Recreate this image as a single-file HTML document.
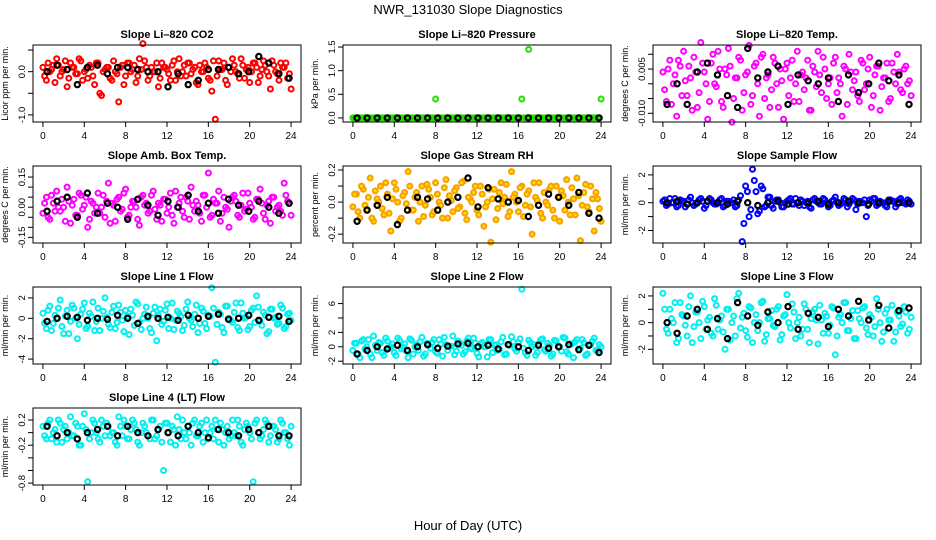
<!DOCTYPE html>
<html><head><meta charset="utf-8">
<style>
html,body{margin:0;padding:0;background:#fff;}
svg{display:block;font-family:"Liberation Sans",sans-serif;}
</style></head>
<body>
<svg id="chart" width="936" height="540" viewBox="0 0 936 540" xmlns="http://www.w3.org/2000/svg">
<rect width="936" height="540" fill="#fff"/>
<text x="468" y="14" text-anchor="middle" font-size="13">NWR_131030  Slope Diagnostics</text>
<text x="468" y="530" text-anchor="middle" font-size="13">Hour of Day (UTC)</text>
</svg>
<script>
const NS="http://www.w3.org/2000/svg";
const svg=document.getElementById('chart');
const xTicks=[0,4,8,12,16,20,24];

const co2Color=[0.1,-0.2,0.0,0.15,0.3,-0.1,0.05,-0.35,0.2,0.1,-0.05,0.25,0.0,-0.15,0.1,-0.3,0.2,-0.55,0.05,0.1,-0.2,0.0,-0.7,0.15,-0.1,0.2,0.05,-0.25,0.3,0.65,0.1,-0.1,0.0,0.2,-0.15,0.1,0.05,-0.2,0.25,0.0,-0.1,0.15,0.2,-0.05,0.1,-0.3,0.0,0.2,-0.15,-0.45,-1.1,0.25,0.05,-0.2,0.1,0.3,0.0,-0.15,0.15,0.05,-0.25,0.2,0.1,-0.1,0.25,0.0,-0.4,0.15,-0.05,0.2,0.1,-0.15,-0.4];
const co2Color2=[-0.1,0.2,0.05,-0.25,0.15,0.0,0.25,-0.15,0.1,-0.05,0.3,-0.2,0.05,0.15,-0.1,0.2,-0.5,0.0,0.1,-0.15,0.25,-0.05,0.1,-0.3,0.2,0.0,0.15,-0.1,0.05,0.25,-0.2,0.1,0.0,-0.35,0.2,0.1,-0.05,0.15,-0.2,0.3,0.0,-0.1,0.2,0.05,-0.25,0.15,0.0,0.1,-0.2,0.25,-0.1,0.05,0.2,-0.3,0.0,0.15,-0.05,0.3,-0.15,0.1,0.0,0.2,-0.25,0.05,0.15,-0.1,0.25,0.0,-0.2,0.1,0.2,-0.05];
const co2Black=[0.0,0.15,0.05,-0.3,0.1,0.15,-0.05,0.1,0.1,0.05,0.0,0.0,-0.35,-0.05,-0.3,-0.2,0.05,0.05,0.1,-0.05,0.0,0.35,0.2,-0.05,-0.15];

const presColor=[0,0,0,0,0,0,0,0,0,0,0,0,0,0,0,0,0,0,0,0,0,0,0,0,0.4,0,0,0,0,0,0,0,0,0,0,0,0,0,0,0,0,0,0,0,0,0,0,0,0,0.4,0,1.45,0,0,0,0,0,0,0,0,0,0,0,0,0,0,0,0,0,0,0,0,0.4];
const presColor2=[0,0,0,0,0,0,0,0,0,0,0,0,0,0,0,0,0,0,0,0,0,0,0,0,0,0,0,0,0,0,0,0,0,0,0,0,0,0,0,0,0,0,0,0,0,0,0,0,0,0,0,0,0,0,0,0,0,0,0,0,0,0,0,0,0,0,0,0,0,0,0,0];
const presBlack=[0,0,0,0,0,0,0,0,0,0,0,0,0,0,0,0,0,0,0,0,0,0,0,0,0];

const tempColor=[0.004,-0.006,0.008,0.0,-0.011,0.006,0.011,-0.004,0.002,0.009,-0.008,0.014,0.004,-0.012,0.007,0.0,0.011,-0.006,0.005,0.012,-0.013,0.002,0.009,-0.009,0.003,0.013,-0.004,0.007,-0.011,0.01,0.002,-0.008,0.009,0.0,0.005,-0.012,0.007,0.002,-0.006,0.011,0.003,-0.002,0.008,-0.009,0.004,0.011,-0.003,0.005,0.0,-0.007,0.009,0.002,-0.011,0.005,0.01,-0.002,0.004,-0.006,0.007,0.0,0.009,-0.004,0.006,-0.009,0.002,0.007,-0.005,0.004,0.01,-0.002,0.005,0.0,-0.004];
const tempColor2=[-0.002,0.005,-0.007,0.003,0.008,-0.004,0.001,0.006,-0.009,0.004,-0.003,0.007,0.0,-0.006,0.01,-0.001,0.005,-0.008,0.003,0.006,-0.005,0.002,0.008,-0.003,0.004,-0.007,0.006,0.0,0.009,-0.005,0.003,-0.002,0.007,-0.008,0.001,0.005,-0.004,0.008,0.0,-0.006,0.004,0.002,-0.009,0.006,-0.001,0.003,0.009,-0.005,0.002,0.007,-0.003,0.0,0.006,-0.007,0.004,0.001,-0.004,0.008,-0.002,0.005,-0.008,0.003,0.006,-0.001,0.002,-0.006,0.007,0.0,0.004,-0.003,0.006,0.001];
const tempBlack=[-0.007,0.0,-0.007,0.004,0.007,0.003,-0.004,-0.008,0.012,0.002,0.004,0.006,-0.007,0.003,0.001,0.0,0.002,-0.006,0.003,-0.003,0.0,0.007,0.001,0.003,-0.007];

const ambColor=[-0.03,0.05,-0.06,0.02,0.08,-0.02,0.0,0.1,-0.08,0.04,-0.04,0.06,0.01,-0.1,0.03,-0.03,0.07,0.0,-0.05,0.12,0.02,-0.07,0.05,-0.01,0.09,-0.04,0.03,0.0,-0.09,0.06,0.02,-0.02,0.08,-0.06,0.01,0.04,-0.03,0.07,-0.08,0.0,0.05,-0.05,0.03,0.1,-0.02,0.01,-0.07,0.06,0.17,-0.04,0.02,0.08,-0.03,0.0,-0.1,0.05,0.03,-0.05,0.07,-0.01,0.02,-0.06,0.04,0.09,-0.03,0.01,-0.08,0.05,0.0,-0.02,0.12,0.03,-0.04];
const ambColor2=[0.02,-0.05,0.06,-0.02,0.0,0.04,-0.07,0.03,0.01,-0.04,0.07,-0.01,0.05,-0.06,0.02,0.0,-0.03,0.06,0.03,-0.08,0.01,0.04,-0.02,0.07,-0.05,0.0,0.03,-0.06,0.05,0.01,-0.03,0.06,-0.01,0.02,-0.07,0.04,0.0,-0.04,0.08,0.02,-0.02,0.05,-0.06,0.01,0.03,-0.03,0.06,0.0,-0.05,0.04,0.02,-0.07,0.05,-0.01,0.03,0.06,-0.04,0.01,-0.02,0.07,0.0,-0.05,0.04,0.02,-0.06,0.03,0.05,-0.02,0.01,-0.04,0.06,0.02];
const ambBlack=[-0.02,0.03,0.05,-0.05,0.07,-0.03,0.02,0.0,-0.06,0.04,0.01,-0.04,0.03,0.0,0.06,-0.02,0.02,-0.03,0.04,0.01,-0.02,0.03,0.0,-0.03,0.02];

const rhColor=[-0.03,0.05,-0.1,0.08,-0.05,0.15,-0.12,0.02,0.1,-0.08,0.05,-0.18,0.12,0.0,-0.1,0.06,0.19,-0.05,0.03,-0.12,0.1,-0.02,0.08,-0.08,0.12,0.0,-0.1,0.14,0.04,-0.06,0.09,-0.03,0.13,-0.11,0.02,0.06,-0.05,0.1,-0.15,0.0,-0.25,0.08,-0.04,0.12,0.03,-0.09,0.19,0.05,-0.06,0.1,-0.02,0.07,-0.2,0.03,0.12,-0.1,0.0,0.08,-0.05,0.1,-0.12,0.04,0.14,-0.08,0.02,0.15,-0.24,0.06,-0.03,0.1,-0.18,0.02,-0.12];
const rhColor2=[0.05,-0.06,0.1,-0.02,0.03,-0.1,0.07,0.0,-0.04,0.12,-0.07,0.02,0.08,-0.12,0.04,-0.01,0.1,-0.05,0.06,0.0,-0.09,0.11,0.03,-0.06,0.05,-0.02,0.09,-0.1,0.01,0.07,-0.04,0.12,-0.07,0.03,0.0,0.1,-0.08,0.05,-0.03,0.08,0.02,-0.11,0.06,-0.01,0.11,-0.06,0.03,0.0,0.09,-0.09,0.05,-0.03,0.12,0.01,-0.07,0.06,-0.02,0.1,-0.1,0.03,0.07,-0.05,0.0,0.09,-0.08,0.04,-0.02,0.11,-0.06,0.02,0.06,-0.04];
const rhBlack=[-0.12,-0.05,-0.02,0.03,-0.14,-0.05,0.03,0.02,-0.05,0.0,0.03,0.15,-0.03,0.09,0.02,0.0,0.01,-0.09,-0.02,0.05,0.03,-0.02,0.06,-0.07,-0.1];

const sflColor=[0.1,-0.2,0.3,0.0,-0.3,0.2,0.1,-0.1,0.4,-0.2,0.0,0.3,-0.4,0.1,0.2,-0.1,0.0,0.3,-0.2,0.1,0.0,-0.3,0.2,-2.8,1.2,-1.0,2.4,0.8,-0.6,1.0,-0.2,0.4,-0.4,0.2,0.0,-0.3,0.1,0.3,-0.1,0.0,0.2,-0.2,0.1,-0.4,0.3,0.0,-0.1,0.2,-0.3,0.1,0.4,-0.2,0.0,0.2,-0.1,0.3,-0.5,0.1,0.0,-1.0,0.2,0.3,-0.2,0.1,0.0,-0.3,0.2,0.1,-0.1,0.3,0.0,0.2,-0.1];
const sflColor2=[0.2,-0.1,0.0,0.3,-0.2,0.1,-0.3,0.2,0.0,-0.1,0.2,0.1,-0.2,0.3,0.0,-0.1,0.2,-0.3,0.1,0.0,0.2,-0.2,0.5,-1.5,0.8,-0.5,1.6,-0.8,1.2,-0.3,0.4,-0.2,0.1,0.2,-0.3,0.0,0.2,-0.1,0.3,-0.2,0.1,0.0,-0.3,0.2,0.1,-0.1,0.3,0.0,-0.2,0.2,0.0,-0.1,0.3,-0.3,0.1,0.2,-0.1,0.0,0.2,-0.2,0.1,0.3,-0.1,0.0,-0.2,0.2,0.1,-0.3,0.2,0.0,-0.1,0.1];
const sflBlack=[0.0,0.1,-0.1,0.0,0.1,0.0,-0.1,0.1,0.0,-0.2,0.0,0.1,-0.1,0.0,0.0,0.1,-0.1,0.0,0.1,0.0,-0.1,0.0,0.1,0.0,0.0];

const l1Color=[0.5,-1.0,1.2,-0.5,0.0,1.8,-1.5,0.8,-0.3,1.0,-2.0,0.4,1.5,-0.8,0.2,-1.2,1.0,0.0,2.0,-0.6,0.6,-1.0,1.3,-0.2,0.8,-1.6,0.3,1.6,-0.4,0.0,1.1,-1.0,0.5,-2.2,0.9,-0.3,1.4,0.0,-1.1,0.7,0.2,-0.7,1.6,-0.2,0.4,-1.4,1.0,-0.5,0.3,3.0,-4.3,0.6,-0.9,1.2,0.0,-0.4,1.5,-1.2,0.5,0.1,-0.8,1.0,2.2,-0.3,0.6,-1.5,0.9,0.0,-0.6,1.3,-1.0,0.4,-0.2];
const l1Color2=[-0.5,0.8,-1.2,0.3,1.0,-0.8,0.2,-1.5,1.3,0.0,-0.6,0.9,-1.0,0.5,1.6,-0.3,-1.2,0.7,0.1,-0.9,1.2,-0.4,0.6,-1.3,0.2,0.9,-0.7,1.4,-1.1,0.4,0.0,-1.4,1.1,0.3,-0.6,0.8,-1.0,1.5,-0.2,0.5,-1.2,0.9,0.0,-0.8,1.3,-0.5,0.7,-1.0,0.2,1.0,-0.6,0.4,-1.4,1.2,-0.2,0.6,-0.9,1.5,0.0,-1.1,0.8,-0.4,1.1,-0.7,0.3,-1.3,0.9,0.1,-0.5,1.0,-0.8,0.5];
const l1Black=[-0.3,0.0,0.2,0.1,-0.2,0.0,-0.1,0.3,0.0,-0.5,0.2,0.0,0.1,-0.2,0.3,0.0,0.2,0.4,-0.1,0.0,0.3,-0.2,0.1,0.2,-0.3];

const l2Color=[-0.5,0.5,-1.5,1.0,0.0,-1.0,1.5,-0.5,0.5,-1.2,0.8,0.0,-0.8,1.2,-0.3,0.4,-1.5,0.9,0.0,-0.5,1.3,-1.0,0.2,0.6,-0.7,1.0,-1.3,0.3,0.0,1.5,-0.6,0.5,-1.0,0.8,-0.2,1.2,-0.9,0.4,0.0,-1.4,1.0,0.2,-0.5,0.7,-1.1,0.3,1.4,-0.3,0.6,8.0,-0.8,0.9,0.0,-1.2,0.5,1.1,-0.6,0.2,-1.0,0.8,0.0,1.3,-0.7,0.4,-1.5,1.0,-0.2,0.6,-1.0,0.3,1.2,-0.5,0.0];
const l2Color2=[0.5,-1.0,0.8,-0.3,1.0,-1.5,0.2,0.6,-0.8,1.2,-0.2,0.4,-1.2,0.9,0.0,-0.6,1.1,-1.0,0.3,0.7,-1.3,0.5,-0.2,1.0,-0.9,0.4,1.3,-0.5,0.1,-1.1,0.8,0.2,-0.7,1.2,-0.3,0.5,-1.4,0.6,0.0,1.0,-0.8,0.3,-0.4,1.3,-1.0,0.2,0.7,-0.6,1.1,-0.2,-1.2,0.6,0.3,-0.8,1.0,-0.4,0.5,-1.3,0.9,0.0,-0.6,1.2,-1.0,0.4,0.7,-0.3,1.0,-1.2,0.2,0.8,-0.5,0.3];
const l2Black=[-1.0,-0.5,0.0,-0.3,0.2,-0.5,0.0,0.3,-0.2,0.1,0.4,0.5,0.0,0.2,-0.3,0.3,0.0,-0.5,0.2,-0.2,0.0,0.3,-0.4,0.2,-0.8];

const l3Color=[2.2,-0.5,1.0,0.0,-1.5,1.5,0.5,-1.0,2.0,-0.3,0.8,-1.2,1.2,0.2,-0.8,1.8,-0.5,0.5,-2.0,1.0,0.0,-1.0,2.2,0.4,-0.6,1.2,-1.5,0.6,0.0,1.6,-0.9,0.3,-0.2,1.0,-1.3,0.5,2.1,-0.4,0.8,0.0,-1.0,1.4,-0.5,0.3,1.0,-1.6,0.2,0.7,-0.8,1.2,-2.4,0.4,0.0,1.5,-0.6,0.9,-1.2,0.3,1.1,-0.4,0.6,-1.0,1.8,0.0,-0.7,1.0,0.2,-1.4,0.8,-0.3,1.2,-0.8,0.4];
const l3Color2=[1.0,-0.8,0.3,1.5,-1.2,0.6,-0.2,1.2,-1.5,0.8,0.0,1.6,-0.5,0.4,-1.0,1.3,0.2,-0.7,1.0,-1.3,0.5,1.8,-0.4,0.7,-1.1,1.1,0.0,-0.6,1.5,-1.4,0.3,0.9,-0.3,1.2,-0.9,0.6,0.0,1.4,-1.2,0.4,-0.5,1.0,-1.5,0.8,0.2,1.3,-0.8,0.5,-0.2,1.1,-1.0,0.6,1.5,-0.6,0.3,-1.2,0.9,0.0,1.2,-0.9,0.4,-0.3,1.0,-1.4,0.7,0.2,1.3,-0.7,0.5,-0.1,0.8,-0.5];
const l3Black=[0.0,-0.8,0.5,1.0,-0.5,0.3,-1.2,1.5,0.5,-0.2,0.8,0.0,1.2,-0.5,0.7,0.4,-0.3,1.0,0.5,1.6,0.2,1.3,-0.4,0.9,1.1];

const l4Color=[0.1,-0.1,0.2,0.0,-0.15,0.15,0.05,-0.1,0.25,-0.05,0.1,-0.2,0.3,-0.78,0.0,0.15,-0.1,0.2,-0.05,0.1,0.0,-0.15,0.25,-0.05,0.1,-0.1,0.2,0.05,-0.2,0.15,0.0,-0.1,0.2,-0.05,0.1,-0.6,0.15,-0.15,0.05,0.25,-0.1,0.0,0.1,-0.2,0.2,-0.05,0.15,0.0,-0.1,0.1,0.2,-0.15,0.05,0.0,-0.1,0.2,-0.05,0.1,-0.2,0.15,0.0,-0.78,0.2,-0.1,0.05,0.15,-0.05,0.1,-0.15,0.2,0.0,-0.1,0.1];
const l4Color2=[-0.05,0.15,-0.1,0.05,0.2,-0.15,0.1,0.0,-0.05,0.15,-0.2,0.1,0.05,-0.1,0.2,0.0,-0.15,0.1,0.15,-0.05,0.0,-0.2,0.1,0.2,-0.1,0.05,0.15,-0.15,0.0,0.1,-0.05,0.2,-0.1,0.05,-0.15,0.15,0.0,0.1,-0.2,0.05,0.2,-0.1,0.0,0.15,-0.05,0.1,-0.15,0.2,0.0,-0.1,0.05,0.15,-0.2,0.1,-0.05,0.0,0.2,-0.15,0.05,0.1,-0.1,0.15,0.0,-0.05,0.2,-0.15,0.1,0.05,-0.1,0.15,0.0,-0.2];
const l4Black=[0.1,-0.05,0.0,-0.1,0.0,0.05,0.1,-0.05,0.1,0.0,-0.05,0.05,0.0,-0.05,0.1,0.0,-0.08,0.05,0.0,-0.05,0.05,0.0,0.1,-0.05,-0.05];

const panels=[
 {name:'co2',title:'Slope Li\u2013820 CO2',ylab:'Licor ppm per min.',col:0,row:0,ymin:-1.164,ymax:0.617,ticks:[-1.0,-0.5,0.0,0.5],labels:['-1.0','','0.0',''],color:'#ff0000',c:co2Color,c2:co2Color2,b:co2Black},
 {name:'pressure',title:'Slope Li\u2013820 Pressure',ylab:'kPa per min.',col:1,row:0,ymin:-0.086,ymax:1.543,ticks:[0,0.5,1,1.5],labels:['0.0','0.5','1.0','1.5'],color:'#22e000',c:presColor,c2:presColor2,b:presBlack},
 {name:'temp',title:'Slope Li\u2013820 Temp.',ylab:'degrees C per min.',col:2,row:0,ymin:-0.01295,ymax:0.01315,ticks:[-0.01,-0.005,0,0.005,0.01],labels:['-0.010','','','0.005',''],color:'#ff00ff',c:tempColor,c2:tempColor2,b:tempBlack},
 {name:'amb-box',title:'Slope Amb. Box Temp.',ylab:'degrees C per min.',col:0,row:1,ymin:-0.178,ymax:0.205,ticks:[-0.15,-0.1,-0.05,0,0.05,0.1,0.15],labels:['-0.15','','','0.00','','','0.15'],color:'#ff00ff',c:ambColor,c2:ambColor2,b:ambBlack},
 {name:'rh',title:'Slope Gas Stream RH',ylab:'percent per min.',col:1,row:1,ymin:-0.255,ymax:0.225,ticks:[-0.2,-0.1,0,0.1,0.2],labels:['-0.2','','0.0','','0.2'],color:'#f7b400',c:rhColor,c2:rhColor2,b:rhBlack},
 {name:'sample-flow',title:'Slope Sample Flow',ylab:'ml/min per min.',col:2,row:1,ymin:-2.9,ymax:2.64,ticks:[-2,-1,0,1,2],labels:['-2','','0','','2'],color:'#0000ff',c:sflColor,c2:sflColor2,b:sflBlack},
 {name:'line1',title:'Slope Line 1 Flow',ylab:'ml/min per min.',col:0,row:2,ymin:-4.48,ymax:3.07,ticks:[-4,-2,0,2],labels:['-4','-2','0','2'],color:'#00f0f0',c:l1Color,c2:l1Color2,b:l1Black},
 {name:'line2',title:'Slope Line 2 Flow',ylab:'ml/min per min.',col:1,row:2,ymin:-2.39,ymax:8.3,ticks:[-2,0,2,4,6],labels:['-2','0','2','','6'],color:'#00f0f0',c:l2Color,c2:l2Color2,b:l2Black},
 {name:'line3',title:'Slope Line 3 Flow',ylab:'ml/min per min.',col:2,row:2,ymin:-3.1,ymax:2.67,ticks:[-2,-1,0,1,2],labels:['-2','','0','','2'],color:'#00f0f0',c:l3Color,c2:l3Color2,b:l3Black},
 {name:'line4',title:'Slope Line 4 (LT) Flow',ylab:'ml/min per min.',col:0,row:3,ymin:-0.83,ymax:0.39,ticks:[-0.8,-0.6,-0.4,-0.2,0,0.2],labels:['-0.8','','','-0.2','','0.2'],color:'#00f0f0',c:l4Color,c2:l4Color2,b:l4Black}
];

function mk(tag,attrs,parent){const e=document.createElementNS(NS,tag);for(const k in attrs)e.setAttribute(k,attrs[k]);parent.appendChild(e);return e;}

panels.forEach(p=>{
  const L=33+p.col*310, R=L+268, T=45+p.row*121, B=T+77;
  const xs=h=>L+(h+0.96)/25.92*(R-L);
  const ys=v=>B-(v-p.ymin)/(p.ymax-p.ymin)*(B-T);
  const g=mk('g',{},svg);
  
  
  const t=mk('text',{x:(L+R)/2,y:T-7,'text-anchor':'middle','font-size':'11','font-weight':'bold'},g);
  t.textContent=p.title;
  
  
  const yl=mk('text',{x:0,y:0,'text-anchor':'middle','font-size':'9',transform:`translate(${L-25},${(T+B)/2}) rotate(-90)`},g);
  yl.textContent=p.ylab;
  
  
  const pg=mk('g',{fill:'none','stroke-width':'2'},g);
  
  
  function colorPoint(h,v){
    const c=mk('circle',{cx:xs(h).toFixed(1),cy:ys(v).toFixed(1),r:'2.5',stroke:p.color},pg);
    if(p.name==='rh'){c.setAttribute('stroke','#f7a000');c.setAttribute('fill','#ffe000');}
    
    
  }
  const n=p.c.length;
  p.c.forEach((v,i)=>colorPoint(i*24/(n-1),v));
  const n2=p.c2.length;
  p.c2.forEach((v,i)=>colorPoint((i+0.5)*24/n2,v));
  const nb=p.b.length;
  p.b.forEach((v,i)=>{
    const h=0.4+i*23.4/(nb-1);
    const c=mk('circle',{cx:xs(h).toFixed(1),cy:ys(v).toFixed(1),r:'2.6',stroke:'#000','stroke-width':'2.2'},pg);
    
    
  });
  const box=mk('rect',{x:L,y:T,width:R-L,height:B-T,fill:'none',stroke:'#000','stroke-width':'1'},g);
  
  
  const xa=mk('g',{},g);
  
  
  mk('line',{x1:xs(0),x2:xs(24),y1:B,y2:B,stroke:'#000'},xa);
  xTicks.forEach(h=>{
    mk('line',{x1:xs(h),x2:xs(h),y1:B,y2:B+5,stroke:'#000'},xa);
    const tl=mk('text',{x:xs(h),y:B+17,'text-anchor':'middle','font-size':'10'},xa);
    tl.textContent=h;
    
    
  });
  const ya=mk('g',{},g);
  
  
  mk('line',{x1:L,x2:L,y1:ys(p.ticks[0]),y2:ys(p.ticks[p.ticks.length-1]),stroke:'#000'},ya);
  p.ticks.forEach((v,i)=>{
    mk('line',{x1:L-5,x2:L,y1:ys(v),y2:ys(v),stroke:'#000'},ya);
    if(p.labels[i]){
      const tl=mk('text',{x:0,y:0,'text-anchor':'middle','font-size':'9.5',transform:`translate(${L-8},${ys(v)}) rotate(-90)`},ya);
      tl.textContent=p.labels[i];
      
      
    }
  });
});
</script>
</body></html>
